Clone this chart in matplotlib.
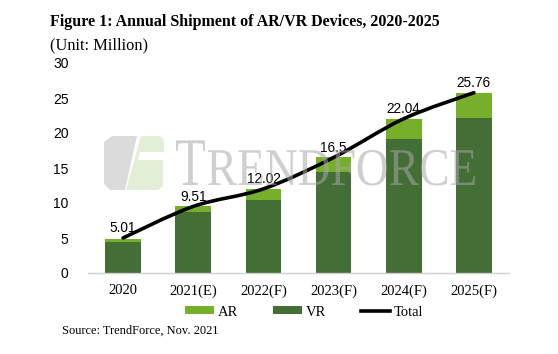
import matplotlib
matplotlib.use("Agg")
import matplotlib.pyplot as plt
from matplotlib.path import Path
from matplotlib.patches import PathPatch, Polygon
from matplotlib.textpath import TextPath
from matplotlib.font_manager import FontProperties
from matplotlib.transforms import Affine2D
import numpy as np

categories = ["2020", "2021(E)", "2022(F)", "2023(F)", "2024(F)", "2025(F)"]
vr = [4.37, 8.66, 10.47, 14.47, 19.14, 22.19]
ar = [0.55, 0.85, 1.57, 2.03, 2.90, 3.57]
total = [5.01, 9.51, 12.02, 16.5, 22.04, 25.76]
total_labels = ["5.01", "9.51", "12.02", "16.5", "22.04", "25.76"]
yticks = [0, 5, 10, 15, 20, 25, 30]

AR_C = "#76B02A"
VR_C = "#436E35"
SERIF = ["Liberation Serif", "DejaVu Serif"]
SANS = ["Liberation Sans", "DejaVu Sans"]

W, H = 558, 354
fig = plt.figure(figsize=(W / 100, H / 100), dpi=100)
fig.patch.set_facecolor("white")

ax = fig.add_axes([88 / W, (H - 273) / H, 421 / W, 210 / H])
ax.set_facecolor("none")
x = np.arange(len(categories))
ax.bar(x, vr, width=0.51, color=VR_C, label="VR", zorder=2)
ax.bar(x, ar, width=0.51, bottom=vr, color=AR_C, label="AR", zorder=2)

# smoothed line (Catmull-Rom -> Bezier) through the totals
pts = np.column_stack([x, total]).astype(float)
verts = [tuple(pts[0])]
codes = [Path.MOVETO]
n = len(pts)
for i in range(n - 1):
    p0 = pts[i - 1] if i > 0 else pts[i]
    p1 = pts[i]
    p2 = pts[i + 1]
    p3 = pts[i + 2] if i + 2 < n else pts[i + 1]
    c1 = p1 + (p2 - p0) / 6.0
    c2 = p2 - (p3 - p1) / 6.0
    verts += [tuple(c1), tuple(c2), tuple(p2)]
    codes += [Path.CURVE4] * 3
ax.add_patch(PathPatch(Path(verts, codes), facecolor="none", edgecolor="black",
                       lw=2.6, capstyle="round", zorder=4))
ax.plot([], [], color="black", lw=2.6, label="Total")

for xi, t, lab in zip(x, total, total_labels):
    ax.annotate(lab, (xi, t), xytext=(0, 2), textcoords="offset points",
                ha="center", va="bottom", fontsize=9.8, family=SANS, zorder=5)

ax.set_xlim(-0.5, len(categories) - 0.5)
ax.set_ylim(0, 30)
ax.set_yticks(yticks)
ax.set_yticklabels([str(v) for v in yticks], family=SANS, fontsize=10)
ax.set_xticks(x)
ax.set_xticklabels(categories, family=SERIF, fontsize=10.5)
ax.tick_params(axis="both", length=0)
ax.tick_params(axis="y", pad=14)
ax.tick_params(axis="x", pad=8)
for s in ["top", "right", "left"]:
    ax.spines[s].set_visible(False)
ax.spines["bottom"].set_color("#D0D0D0")
ax.spines["bottom"].set_linewidth(1)

# legend
h, l = ax.get_legend_handles_labels()
order = [l.index("AR"), l.index("VR"), l.index("Total")]
leg = fig.legend([h[i] for i in order], [l[i] for i in order], loc="center",
                 bbox_to_anchor=(304 / W, 1 - 312 / H), ncol=3, frameon=False,
                 prop={"family": SERIF, "size": 10.5}, handlelength=2.0,
                 handleheight=0.45, handletextpad=0.25, columnspacing=2.4)

# titles
fig.text(50 / W, 1 - 22 / H, "Figure 1: Annual Shipment of AR/VR Devices, 2020-2025",
         family=SERIF, fontweight="bold", fontsize=11.5, va="center", ha="left")
fig.text(50 / W, 1 - 45 / H, "(Unit: Million)", family=SERIF, fontsize=11.8,
         va="center", ha="left")
fig.text(62 / W, 1 - 331 / H, "Source: TrendForce, Nov. 2021", family=SERIF,
         fontsize=8.9, va="center", ha="left")

# watermark
def fp(px, py):
    return (px / W, 1 - py / H)

gray_shape = [fp(112, 136), fp(137, 136), fp(125, 190), fp(110, 190), fp(104, 184), fp(104, 142)]
fig.patches.append(Polygon(gray_shape, closed=True, transform=fig.transFigure,
                           facecolor="#BEBEBE", edgecolor="none", alpha=0.55, zorder=3))
green_shape = [fp(141, 136), fp(160, 136), fp(164, 140), fp(164, 152), fp(140, 152),
               fp(138, 160), fp(163, 160), fp(163, 186), fp(158, 190), fp(126, 190)]
fig.patches.append(Polygon(green_shape, closed=True, transform=fig.transFigure,
                           facecolor="#D6E8C4", edgecolor="none", alpha=0.7, zorder=3))

wm_font = FontProperties(family="Liberation Serif")
def wm_text(s, x0, x1, base_y, cap_h):
    tp = TextPath((0, 0), s, size=100, prop=wm_font)
    ext = tp.get_extents()
    sx = (x1 - x0) / ext.width
    sy = cap_h / 66.0
    tr = (Affine2D().translate(-ext.x0, 0).scale(sx, sy)
          .translate(x0, H - base_y).scale(1 / W, 1 / H) + fig.transFigure)
    fig.patches.append(PathPatch(tp, transform=tr, facecolor="#A8A8A8",
                                 edgecolor="none", alpha=0.55, zorder=3))

wm_text("T", 176, 205, 185, 45)
wm_text("RENDFORCE", 208, 475, 185, 35)

fig.savefig("out.png", dpi=100)
